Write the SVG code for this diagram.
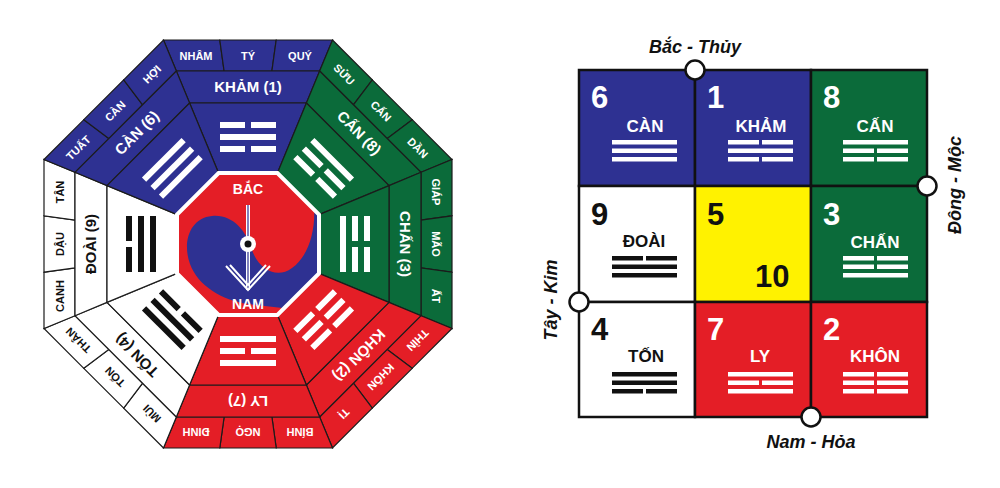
<svg xmlns="http://www.w3.org/2000/svg" xmlns:xlink="http://www.w3.org/1999/xlink" width="1000" height="488" viewBox="0 0 1000 488">
<style>
text{font-family:"Liberation Sans",Arial,sans-serif;font-weight:bold;text-anchor:middle}
.sec{stroke:#1b1b1b;stroke-width:1.2}
.blue{fill:#2e3192}.green{fill:#0b6b3a}.red{fill:#e41e26}.white{fill:#fff}
.blue text,.green text,.red text{fill:#fff;stroke:none}
.white text{fill:#111;stroke:none}
.br{font-size:11px}.nm{font-size:15px}
.tri{stroke:none}
.blue .tri,.green .tri,.red .tri{fill:#fff}
.white .tri{fill:#111}
.num{font-size:31px;text-anchor:start}
.gn{font-size:17px}
.dir{font-size:18px;font-style:italic;fill:#111}
.cell{stroke:#111;stroke-width:2.5}
.dot{fill:#fff;stroke:#111;stroke-width:2.5}
</style>
<defs>
<polygon id="c1" points="-84.5,-204 -28.2,-204 -23.9,-173 -71.7,-173"/>
<polygon id="c2" points="-28.2,-204 28.2,-204 23.9,-173 -23.9,-173"/>
<polygon id="c3" points="28.2,-204 84.5,-204 71.7,-173 23.9,-173"/>
<polygon id="nr" points="-71.7,-173 71.7,-173 58.4,-141 -58.4,-141"/>
<polygon id="tw" points="-58.4,-141 58.4,-141 29.4,-71 -29.4,-71"/>
<rect id="s" x="-28" y="-3" width="56" height="6"/>
<path id="b" d="M-28,-3h25v6h-25z M3,-3h25v6h-25z"/>
<rect id="gs" x="0" y="0" width="65" height="4.5"/>
<path id="gb" d="M0,0h31v4.5h-31z M34,0h31v4.5h-31z"/>
<clipPath id="oct"><polygon points="218.6,173 277.4,173 319,214.6 319,273.4 277.4,315 218.6,315 177,273.4 177,214.6"/></clipPath>
</defs>

<g id="sector-kham" class="sec blue" transform="translate(248,244)">
<use href="#c1"/><use href="#c2"/><use href="#c3"/><use href="#nr"/><use href="#tw"/>
<text class="br" x="-52" y="-184">NHÂM</text><text class="br" x="0" y="-184">TÝ</text><text class="br" x="52" y="-184">QUÝ</text>
<text class="nm" x="0" y="-152">KHẢM (1)</text>
<g class="tri"><use href="#b" y="-119"/><use href="#s" y="-107"/><use href="#b" y="-95"/></g>
</g>
<g id="sector-can-8" class="sec green" transform="translate(248,244) rotate(45)">
<use href="#c1"/><use href="#c2"/><use href="#c3"/><use href="#nr"/><use href="#tw"/>
<text class="br" x="-52" y="-184">SỬU</text><text class="br" x="0" y="-184">CẤN</text><text class="br" x="52" y="-184">DẦN</text>
<text class="nm" x="0" y="-152">CẤN (8)</text>
<g class="tri"><use href="#s" y="-119"/><use href="#b" y="-107"/><use href="#b" y="-95"/></g>
</g>
<g id="sector-chan" class="sec green" transform="translate(248,244) rotate(90)">
<use href="#c1"/><use href="#c2"/><use href="#c3"/><use href="#nr"/><use href="#tw"/>
<text class="br" x="-52" y="-184">GIÁP</text><text class="br" x="0" y="-184">MÃO</text><text class="br" x="52" y="-184">ẤT</text>
<text class="nm" x="0" y="-152">CHẤN (3)</text>
<g class="tri"><use href="#b" y="-119"/><use href="#b" y="-107"/><use href="#s" y="-95"/></g>
</g>
<g id="sector-khon" class="sec red" transform="translate(248,244) rotate(135)">
<use href="#c1"/><use href="#c2"/><use href="#c3"/><use href="#nr"/><use href="#tw"/>
<text class="br" x="-52" y="-184">THÌN</text><text class="br" x="0" y="-184">KHÔN</text><text class="br" x="52" y="-184">TỊ</text>
<text class="nm" x="0" y="-152">KHÔN (2)</text>
<g class="tri"><use href="#b" y="-119"/><use href="#b" y="-107"/><use href="#b" y="-95"/></g>
</g>
<g id="sector-ly" class="sec red" transform="translate(248,244) rotate(180)">
<use href="#c1"/><use href="#c2"/><use href="#c3"/><use href="#nr"/><use href="#tw"/>
<text class="br" x="-52" y="-184">BÍNH</text><text class="br" x="0" y="-184">NGỌ</text><text class="br" x="52" y="-184">ĐINH</text>
<text class="nm" x="0" y="-152">LY (7)</text>
<g class="tri"><use href="#s" y="-119"/><use href="#b" y="-107"/><use href="#s" y="-95"/></g>
</g>
<g id="sector-ton" class="sec white" transform="translate(248,244) rotate(225)">
<use href="#c1"/><use href="#c2"/><use href="#c3"/><use href="#nr"/><use href="#tw"/>
<text class="br" x="-52" y="-184">MÙI</text><text class="br" x="0" y="-184">TỐN</text><text class="br" x="52" y="-184">THÂN</text>
<text class="nm" x="0" y="-152">TỐN (4)</text>
<g class="tri"><use href="#s" y="-119"/><use href="#s" y="-107"/><use href="#b" y="-95"/></g>
</g>
<g id="sector-doai" class="sec white" transform="translate(248,244) rotate(270)">
<use href="#c1"/><use href="#c2"/><use href="#c3"/><use href="#nr"/><use href="#tw"/>
<text class="br" x="-52" y="-184">CANH</text><text class="br" x="0" y="-184">DẬU</text><text class="br" x="52" y="-184">TÂN</text>
<text class="nm" x="0" y="-152">ĐOÀI (9)</text>
<g class="tri"><use href="#b" y="-119"/><use href="#s" y="-107"/><use href="#s" y="-95"/></g>
</g>
<g id="sector-can-6" class="sec blue" transform="translate(248,244) rotate(315)">
<use href="#c1"/><use href="#c2"/><use href="#c3"/><use href="#nr"/><use href="#tw"/>
<text class="br" x="-52" y="-184">TUẤT</text><text class="br" x="0" y="-184">CÀN</text><text class="br" x="52" y="-184">HỢI</text>
<text class="nm" x="0" y="-152">CÀN (6)</text>
<g class="tri"><use href="#s" y="-119"/><use href="#s" y="-107"/><use href="#s" y="-95"/></g>
</g>

<g id="center">
<g clip-path="url(#oct)">
<rect x="170" y="165" width="160" height="160" fill="#2e3192"/>
<path fill="#e41e26" d="M170,165 H300 C322,195 318,250 292,268 C276,280 258,268 252,250 C246,230 232,214 212,216 C190,218 182,242 190,264 C198,286 222,300 248,304 L300,310 V330 H170 Z"/>
</g>
<polygon points="218.6,173 277.4,173 319,214.6 319,273.4 277.4,315 218.6,315 177,273.4 177,214.6" fill="none" stroke="#fff" stroke-width="4"/>
<line x1="248" y1="205" x2="248" y2="290" stroke="#fff" stroke-width="4"/>
<line x1="248" y1="205" x2="248" y2="290" stroke="#2e3192" stroke-width="1.2"/>
<path d="M226,266 L248,290 L270,266 M230,265 L248,285 L266,265" fill="none" stroke="#fff" stroke-width="2"/>
<circle cx="248" cy="244" r="8" fill="#fff"/>
<circle cx="248" cy="244" r="3.5" fill="#111"/>
<text x="248" y="194" font-size="14" fill="#fff">BẮC</text>
<text x="248" y="309" font-size="14" fill="#fff">NAM</text>
</g>

<g id="grid">
<g id="cell-6"><rect class="cell blue" x="579" y="70" width="116" height="116"/><text class="num" x="591" y="108" fill="#fff">6</text><text class="gn" x="645" y="132" fill="#fff">CÀN</text><g fill="#fff"><use href="#gs" x="612" y="140"/><use href="#gs" x="612" y="148.5"/><use href="#gs" x="612" y="157"/></g></g>
<g id="cell-1"><rect class="cell blue" x="695" y="70" width="116" height="116"/><text class="num" x="707" y="108" fill="#fff">1</text><text class="gn" x="761" y="132" fill="#fff">KHẢM</text><g fill="#fff"><use href="#gb" x="728" y="140"/><use href="#gs" x="728" y="148.5"/><use href="#gb" x="728" y="157"/></g></g>
<g id="cell-8"><rect class="cell green" x="811" y="70" width="116" height="116"/><text class="num" x="823" y="108" fill="#fff">8</text><text class="gn" x="875" y="132" fill="#fff">CẤN</text><g fill="#fff"><use href="#gs" x="843" y="140"/><use href="#gb" x="843" y="148.5"/><use href="#gb" x="843" y="157"/></g></g>
<g id="cell-9"><rect class="cell white" x="579" y="186" width="116" height="116"/><text class="num" x="591" y="225" fill="#111">9</text><text class="gn" x="644" y="247" fill="#111">ĐOÀI</text><g fill="#111"><use href="#gb" x="612" y="256"/><use href="#gs" x="612" y="264.5"/><use href="#gs" x="612" y="273"/></g></g>
<g id="cell-5"><rect class="cell" fill="#fff200" x="695" y="186" width="116" height="116"/><text class="num" x="707" y="225" fill="#111">5</text><text class="num" x="755" y="287" fill="#111">10</text></g>
<g id="cell-3"><rect class="cell green" x="811" y="186" width="116" height="116"/><text class="num" x="823" y="225" fill="#fff">3</text><text class="gn" x="875" y="248" fill="#fff">CHẤN</text><g fill="#fff"><use href="#gb" x="843" y="256"/><use href="#gb" x="843" y="264.5"/><use href="#gs" x="843" y="273"/></g></g>
<g id="cell-4"><rect class="cell white" x="579" y="302" width="116" height="115"/><text class="num" x="591" y="340" fill="#111">4</text><text class="gn" x="646" y="362" fill="#111">TỐN</text><g fill="#111"><use href="#gs" x="612" y="372"/><use href="#gs" x="612" y="380.5"/><use href="#gb" x="612" y="389"/></g></g>
<g id="cell-7"><rect class="cell red" x="695" y="302" width="116" height="115"/><text class="num" x="707" y="340" fill="#fff">7</text><text class="gn" x="760" y="362" fill="#fff">LY</text><g fill="#fff"><use href="#gs" x="728" y="372"/><use href="#gb" x="728" y="380.5"/><use href="#gs" x="728" y="389"/></g></g>
<g id="cell-2"><rect class="cell red" x="811" y="302" width="116" height="115"/><text class="num" x="823" y="340" fill="#fff">2</text><text class="gn" x="875" y="362" fill="#fff">KHÔN</text><g fill="#fff"><use href="#gb" x="843" y="372"/><use href="#gb" x="843" y="380.5"/><use href="#gb" x="843" y="389"/></g></g>
</g>

<g id="directions">
<circle class="dot" cx="695" cy="70" r="9.5"/>
<circle class="dot" cx="927" cy="186" r="9.5"/>
<circle class="dot" cx="579" cy="302" r="9.5"/>
<circle class="dot" cx="811" cy="417" r="9.5"/>
<text class="dir" x="695" y="53">Bắc - Thủy</text>
<text class="dir" x="811" y="448">Nam - Hỏa</text>
<text class="dir" transform="translate(961,185) rotate(-90)">Đông - Mộc</text>
<text class="dir" transform="translate(557,300) rotate(-90)">Tây - Kim</text>
</g>
</svg>
